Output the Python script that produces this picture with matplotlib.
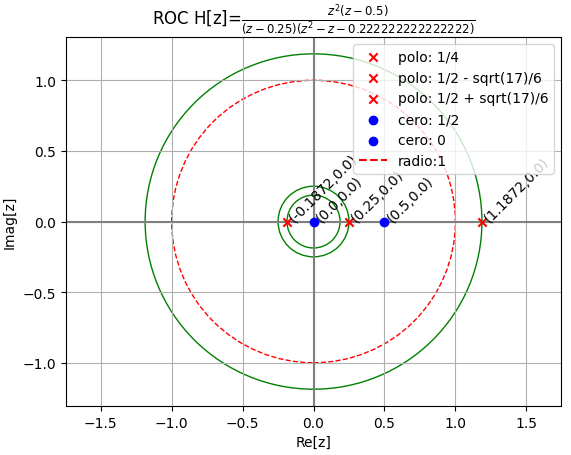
import numpy as np
import matplotlib
matplotlib.use("Agg")
import matplotlib.pyplot as plt

# poles and zeros
polos = [0.25, 0.5 - np.sqrt(17) / 6, 0.5 + np.sqrt(17) / 6]
polos_etiq = ['polo: 1/4', 'polo: 1/2 - sqrt(17)/6', 'polo: 1/2 + sqrt(17)/6']
ceros = [0.5, 0.0]
ceros_etiq = ['cero: 1/2', 'cero: 0']
radio_unitario = 1.0

fig = plt.figure(figsize=(5.71, 4.56), dpi=100)
ax = fig.add_axes([0.1156, 0.1075, 0.867, 0.809])

# ROC circles through each pole radius
for p in polos:
    ax.add_patch(plt.Circle((0, 0), abs(p), color='green', fill=False, linewidth=1))

ax.add_patch(plt.Circle((0, 0), radio_unitario, color='red', fill=False,
                        linestyle='--', linewidth=1))

for p, lab in zip(polos, polos_etiq):
    ax.scatter(p, 0, marker='x', color='red', label=lab, zorder=3)
for c, lab in zip(ceros, ceros_etiq):
    ax.scatter(c, 0, marker='o', color='blue', label=lab, zorder=3)
ax.plot([], [], 'r--', label='radio:1')

for v in polos + ceros:
    ax.annotate('(%s,0.0)' % round(v, 4), (v, 0), rotation=45)

ax.axhline(0, color='grey')
ax.axvline(0, color='grey')
ax.grid(True)
ax.legend(loc='upper right')

ax.set_xlim(-1.745, 1.745)
ax.set_ylim(-1.306, 1.306)
ax.set_xlabel('Re[z]')
ax.set_ylabel('Imag[z]')
ax.set_title(r'ROC H[z]=$\frac{z^{2}(z - 0.5)}{(z - 0.25)(z^{2} - z - 0.222222222222222)}$')

fig.savefig('out.png', dpi=100)
